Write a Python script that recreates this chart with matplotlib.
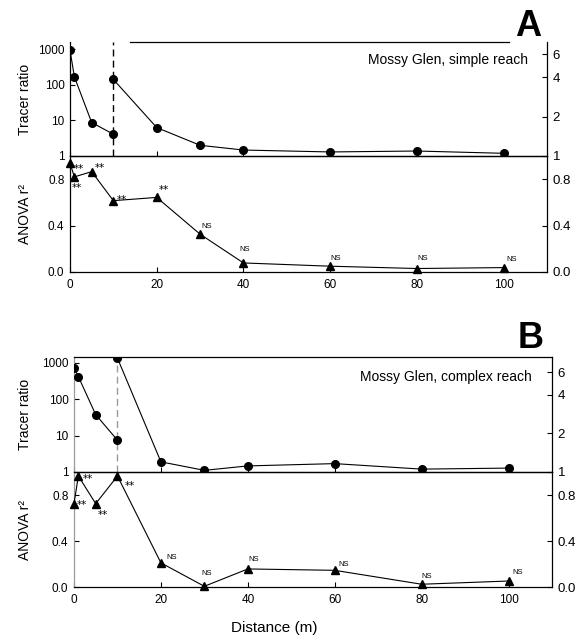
import matplotlib
matplotlib.use("Agg")
import matplotlib.pyplot as plt
from matplotlib.ticker import NullLocator, FixedLocator, FixedFormatter

plt.rcParams['font.family'] = ['Liberation Sans', 'DejaVu Sans']

# ---------------- data ----------------
distance = [0, 1, 5, 10, 20, 30, 40, 60, 80, 100]

# Panel A: Mossy Glen, simple reach
a_tracer_near_x = [0, 1, 5, 10]
a_tracer_near = [950, 170, 8.7, 4.1]
a_tracer_far_x = [10, 20, 30, 40, 60, 80, 100]
a_tracer_far = [142, 6.3, 2.0, 1.47, 1.3, 1.38, 1.19]
a_anova = [0.94, 0.82, 0.865, 0.615, 0.643, 0.326, 0.078, 0.05, 0.03, 0.038]
a_sig = ['**', '**', '**', '**', '**', 'NS', 'NS', 'NS', 'NS', 'NS']

# Panel B: Mossy Glen, complex reach
b_tracer_near_x = [0, 1, 5, 10]
b_tracer_near = [710, 420, 37.6, 7.5]
b_tracer_far_x = [10, 20, 30, 40, 60, 80, 100]
b_tracer_far = [1350, 1.9, 1.11, 1.47, 1.7, 1.2, 1.28]
b_anova = [0.725, 0.965, 0.725, 0.965, 0.21, 0.006, 0.157, 0.145, 0.024, 0.052]
b_sig = ['**', '**', '**', '**', 'NS', 'NS', 'NS', 'NS', 'NS', 'NS']

left_log_ticks = [1, 10, 100, 1000]
left_log_labels = ['1', '10', '100', '1000']
right_log_ticks = [1, 2, 4, 6]
right_log_labels = ['1', '2', '4', '6']
r2_ticks = [0.0, 0.4, 0.8]
r2_labels = ['0.0', '0.4', '0.8']
x_ticks = [0, 20, 40, 60, 80, 100]
x_labels = ['0', '20', '40', '60', '80', '100']

# label offsets (pixels, right/up) for significance marks
a_sig_off = [(9, -4), (3, -9), (8, 6), (9, 3), (7, 9), (7, 8), (1, 13), (5, 8), (6, 10), (8, 8)]
b_sig_off = [(8, 1), (10, -1), (7, -9), (12, -8), (11, 5), (2, 13), (6, 9), (9, 6), (5, 8), (9, 9)]

W, H = 584, 639
fig = plt.figure(figsize=(W / 100, H / 100), dpi=100)


def rect(x0, x1, ytop, ybot):
    return [x0 / W, 1 - ybot / H, (x1 - x0) / W, (ybot - ytop) / H]


TICK = dict(direction='in', length=3.8, width=0.8, colors='black')


def panel(x0, x1, ytop, ymid, ybot, near_x, near, far_x, far, anova, sig, offs,
          left_top, right_top, dash_color, spine_color, title, letter, letter_xy,
          title_xy, partial_top=None):
    axT = fig.add_axes(rect(x0, x1, ytop, ymid))
    axB = fig.add_axes(rect(x0, x1, ymid, ybot))
    for ax in (axT, axB):
        ax.set_xlim(0, 110)
        for s in ax.spines.values():
            s.set_linewidth(0.9)
        ax.spines['left'].set_color(spine_color)
        ax.tick_params(axis='both', which='both', **TICK)
        ax.xaxis.set_major_locator(FixedLocator(x_ticks))
        ax.patch.set_alpha(0)

    # tracer ratio (log)
    axT.set_yscale('log')
    axT.set_ylim(1, left_top)
    axT.yaxis.set_major_locator(FixedLocator(left_log_ticks))
    axT.yaxis.set_major_formatter(FixedFormatter(left_log_labels))
    axT.yaxis.set_minor_locator(NullLocator())
    axT.tick_params(axis='y', labelsize=8.5, pad=4)
    axT.tick_params(axis='x', labelbottom=False)
    axT.plot(near_x, near, color='black', lw=0.8, marker='o', ms=5.5, zorder=3)
    axT.plot(far_x, far, color='black', lw=0.8, marker='o', ms=5.5, zorder=3)
    axT.axvline(10, color=dash_color, lw=1.0, ls=(0, (5, 3)), zorder=2)
    if partial_top is not None:
        axT.spines['top'].set_visible(False)
        axT.plot(partial_top, [1, 1], transform=axT.transAxes, color='black',
                 lw=0.9, clip_on=False)

    rT = axT.twinx()
    rT.set_xlim(0, 110)
    rT.set_yscale('log')
    rT.set_ylim(1, right_top)
    rT.yaxis.set_major_locator(FixedLocator(right_log_ticks))
    rT.yaxis.set_major_formatter(FixedFormatter(right_log_labels))
    rT.yaxis.set_minor_locator(NullLocator())
    rT.tick_params(axis='y', labelsize=9.5, pad=4, **TICK)
    for s in rT.spines.values():
        s.set_visible(False)

    # ANOVA r2
    axB.set_ylim(0, 1)
    axB.yaxis.set_major_locator(FixedLocator(r2_ticks))
    axB.yaxis.set_major_formatter(FixedFormatter(r2_labels))
    axB.tick_params(axis='y', labelsize=8.5, pad=4)
    axB.xaxis.set_major_formatter(FixedFormatter(x_labels))
    axB.tick_params(axis='x', labelsize=8.5, pad=5)
    axB.plot(distance, anova, color='black', lw=0.8, marker='^', ms=6, zorder=3,
             clip_on=False)
    for xv, yv, s, (dx, dy) in zip(distance, anova, sig, offs):
        if s == '**':
            axB.annotate(s, (xv, yv), xytext=(dx * 0.72, (dy - 2) * 0.72),
                         textcoords='offset points', ha='center', va='center',
                         fontsize=7.5, family='DejaVu Sans')
        else:
            axB.annotate(s, (xv, yv), xytext=(dx * 0.72, dy * 0.72),
                         textcoords='offset points', ha='center', va='center',
                         fontsize=5.5)

    rB = axB.twinx()
    rB.set_xlim(0, 110)
    rB.set_ylim(0, 1)
    rB.yaxis.set_major_locator(FixedLocator(r2_ticks))
    rB.yaxis.set_major_formatter(FixedFormatter(r2_labels))
    rB.tick_params(axis='y', labelsize=9.5, pad=4, **TICK)
    for s in rB.spines.values():
        s.set_visible(False)

    fig.text(25 / W, 1 - ((ytop + ymid) / 2) / H, 'Tracer ratio', rotation=90,
             ha='center', va='center', fontsize=10)
    fig.text(25 / W, 1 - ((ymid + ybot) / 2) / H, 'ANOVA r²', rotation=90,
             ha='center', va='center', fontsize=10)
    fig.text(title_xy[0] / W, 1 - title_xy[1] / H, title, ha='right',
             va='center', fontsize=10)
    fig.text(letter_xy[0] / W, 1 - letter_xy[1] / H, letter, ha='center',
             va='center', fontsize=26, fontweight='bold')


panel(70, 547, 42, 156, 272, a_tracer_near_x, a_tracer_near, a_tracer_far_x,
      a_tracer_far, a_anova, a_sig, a_sig_off, 1600, 7.45, 'black', 'black',
      'Mossy Glen, simple reach', 'A', (528, 27), (528, 60),
      partial_top=(0.125, 0.92))
panel(74, 552, 357, 472, 587, b_tracer_near_x, b_tracer_near, b_tracer_far_x,
      b_tracer_far, b_anova, b_sig, b_sig_off, 1450, 7.9, '#999999', '#9a9a9a',
      'Mossy Glen, complex reach', 'B', (531, 339), (532, 377))

fig.text(274 / W, 1 - 628 / H, 'Distance (m)', ha='center', va='center',
         fontsize=11)

fig.savefig('out.png', dpi=100)
